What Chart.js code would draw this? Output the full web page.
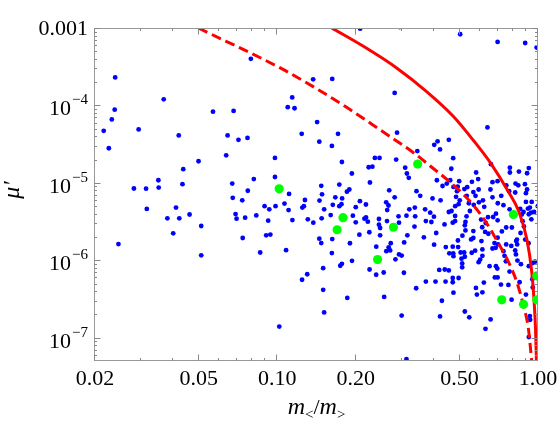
<!DOCTYPE html>
<html>
<head>
<meta charset="utf-8">
<script src="https://cdn.jsdelivr.net/npm/chart.js@4.4.1/dist/chart.umd.min.js"></script>
<style>
  body { margin: 0; background: #fff; }
  canvas { display: block; }
</style>
</head>
<body>
<canvas id="chart" width="560" height="422"></canvas>
<script>
// axis ticks and labels
const xMajorTicks = [0.02, 0.05, 0.1, 0.2, 0.5, 1];
const xTickLabels = ['0.02', '0.05', '0.10', '0.20', '0.50', '1.00'];
const xMinorTicks = [0.03, 0.04, 0.06, 0.07, 0.08, 0.09, 0.3, 0.4, 0.6, 0.7, 0.8, 0.9];
const yMajorTicks = [1e-7, 1e-6, 1e-5, 1e-4, 1e-3];
const yTickLabels = ['10^\u22127', '10^\u22126', '10^\u22125', '10^\u22124', '0.001'];

// red bound curves
const solidX = [0.1618, 0.214, 0.287, 0.374, 0.474, 0.5636, 0.658, 0.764, 0.846, 0.908, 0.945, 0.966, 0.979, 0.987];
const solidY = [1.0e-3, 5.8e-4, 3.05e-4, 1.51e-4, 7.2e-5, 3.58e-5, 1.8e-5, 8.04e-6, 4.2e-6, 1.81e-6, 7.38e-7, 3.01e-7, 1.23e-7, 4.6e-8];
const dashedX = [0.0498, 0.1027, 0.1373, 0.1845, 0.2482, 0.3365, 0.386, 0.474, 0.565, 0.636, 0.695, 0.770, 0.829, 0.879, 0.919, 0.947];
const dashedY = [1.0e-3, 3.05e-4, 1.75e-4, 9.45e-5, 4.83e-5, 2.39e-5, 1.65e-5, 9.35e-6, 5.15e-6, 3.0e-6, 1.8e-6, 9.55e-7, 5.26e-7, 2.62e-7, 1.3e-7, 4.8e-8];

// highlighted points
const greenPoints = [
  [0.1017, 8.36e-6], [0.1787, 3.55e-6], [0.1697, 2.48e-6], [0.279, 2.67e-6], [0.2425, 1.02e-6],
  [0.3455, 1.75e-5], [0.805, 3.9e-6], [0.989, 6.3e-7], [0.726, 3.08e-7], [0.88, 2.7e-7], [0.989, 3.08e-7]
];

// scan points
const bluePoints = [
  [0.0792, 4.0e-4], [0.0239, 2.3e-4], [0.0367, 1.2e-4], [0.0238, 8.8e-5], [0.0567, 8.3e-5], [0.068, 8.5e-5],
  [0.0232, 6.6e-5], [0.0216, 4.7e-5], [0.0294, 4.9e-5], [0.0419, 4.1e-5], [0.0645, 4.1e-5], [0.071, 3.6e-5],
  [0.0769, 3.8e-5], [0.0226, 2.8e-5], [0.0637, 2.27e-5], [0.098, 2.1e-5], [0.0499, 1.9e-5], [0.0436, 1.5e-5],
  [0.098, 1.19e-5], [0.0813, 1.12e-5], [0.035, 1.08e-5], [0.0433, 9.6e-6], [0.0672, 9.8e-6], [0.0282, 8.45e-6],
  [0.0314, 8.4e-6], [0.0351, 8.7e-6], [0.0771, 7.9e-6], [0.0675, 6.4e-6], [0.0734, 5.95e-6], [0.0316, 4.6e-6],
  [0.0409, 4.8e-6], [0.0894, 5.0e-6], [0.0932, 4.55e-6], [0.0985, 5.0e-6],
  [0.0379, 3.48e-6], [0.0421, 3.48e-6], [0.0461, 3.9e-6], [0.0692, 3.95e-6], [0.0698, 3.45e-6], [0.0753, 3.55e-6],
  [0.0831, 3.8e-6], [0.0923, 3.25e-6], [0.0511, 2.77e-6], [0.0399, 2.23e-6], [0.0737, 1.94e-6], [0.0907, 2.1e-6],
  [0.0941, 2.15e-6], [0.0246, 1.62e-6], [0.0511, 1.16e-6], [0.086, 1.26e-6], [0.1018, 1.39e-7],
  [0.208, 9.8e-4], [0.295, 1.03e-3], [0.503, 8.3e-4], [0.700, 6.6e-4], [0.893, 6.4e-4], [0.988, 5.6e-4],
  [0.1373, 2.17e-4], [0.1625, 2.2e-4], [0.282, 1.45e-4], [0.1141, 1.27e-4], [0.1097, 9.5e-5], [0.1165, 9.2e-5],
  [0.1422, 6.1e-5], [0.640, 5.2e-5], [0.1241, 4.3e-5], [0.171, 4.3e-5], [0.288, 4.45e-5], [0.145, 3.4e-5],
  [0.162, 3.0e-5], [0.455, 3.6e-5], [0.412, 3.44e-5], [0.400, 3.1e-5], [0.421, 2.7e-5], [0.3445, 2.57e-5],
  [0.177, 1.86e-5], [0.2368, 2.1e-5], [0.2468, 2.1e-5], [0.2858, 2.0e-5], [0.4728, 2.08e-5], [0.66, 1.74e-5],
  [0.2242, 1.59e-5], [0.2317, 1.62e-5], [0.3095, 1.57e-5], [0.465, 1.52e-5], [0.780, 1.57e-5], [0.780, 1.36e-5],
  [0.845, 1.4e-5], [0.922, 1.55e-5], [0.908, 1.33e-5], [0.1933, 1.32e-5], [0.3142, 1.32e-5], [0.3195, 1.16e-5],
  [0.579, 1.36e-5], [0.2267, 1.01e-5], [0.4605, 1.08e-5], [0.4985, 1.05e-5], [0.5895, 1.12e-5], [0.669, 1.02e-5],
  [0.6995, 1.05e-5], [0.756, 9.25e-6], [0.1475, 9.15e-6], [0.173, 9.5e-6], [0.447, 9.8e-6], [0.535, 8.8e-6],
  [0.522, 8.3e-6], [0.558, 1.03e-5], [0.82, 9.8e-6], [0.84, 9.3e-6], [0.891, 9.6e-6], [0.908, 8.2e-6],
  [0.111, 7.2e-6], [0.1485, 7.1e-6], [0.189, 8.2e-6], [0.185, 7.7e-6], [0.2688, 8.0e-6], [0.342, 7.8e-6],
  [0.4305, 9.1e-6], [0.489, 7.8e-6], [0.485, 6.6e-6], [0.592, 8.2e-6], [0.657, 8.2e-6], [0.669, 6.5e-6],
  [0.775, 7.8e-6], [0.8177, 7.5e-6], [0.474, 8.87e-6], [0.565, 7.6e-6], [0.3534, 6.8e-6], [0.394, 6.3e-6],
  [0.423, 5.95e-6], [0.282, 6.5e-6], [0.167, 6.5e-6], [0.1773, 6.3e-6], [0.1763, 5.3e-6], [0.1277, 6.0e-6],
  [0.1265, 5.0e-6], [0.1452, 5.9e-6], [0.1066, 5.4e-6], [0.2075, 5.8e-6], [0.2188, 5.25e-6], [0.1633, 5.2e-6],
  [0.173, 5.0e-6], [0.2617, 5.6e-6], [0.267, 5.1e-6], [0.576, 6.8e-6], [0.5935, 5.6e-6], [0.567, 5.2e-6],
  [0.615, 5.95e-6], [0.4813, 5.0e-6], [0.501, 5.95e-6], [0.496, 5.3e-6], [0.543, 5.45e-6], [0.723, 6.8e-6],
  [0.737, 5.15e-6], [0.899, 5.67e-6], [0.931, 4.8e-6], [0.915, 4.65e-6], [0.998, 5.0e-6],
  [0.1248, 4.8e-6], [0.1105, 4.45e-6], [0.1513, 4.55e-6], [0.2, 4.85e-6], [0.264, 4.45e-6], [0.321, 4.55e-6],
  [0.337, 4.8e-6], [0.369, 4.55e-6], [0.4095, 1.08e-5], [0.492, 8.9e-6], [0.899, 7.35e-6], [0.533, 6.8e-6],
  [0.622, 4.9e-6], [0.701, 5.45e-6], [0.946, 5.67e-6], [0.778, 4.55e-6], [0.855, 4.6e-6], [0.88, 4.2e-6],
  [0.867, 3.9e-6], [0.922, 3.93e-6], [0.94, 4.12e-6], [0.966, 4.2e-6], [0.386, 4.12e-6], [0.39, 3.12e-6],
  [0.455, 4.2e-6], [0.466, 4.33e-6], [0.548, 4.33e-6], [0.69, 4.0e-6], [0.673, 3.62e-6], [0.70, 3.28e-6],
  [0.605, 3.35e-6], [0.63, 3.03e-6], [0.481, 3.21e-6], [0.471, 3.06e-6], [0.527, 3.12e-6], [0.524, 2.83e-6],
  [0.438, 2.9e-6], [0.565, 2.38e-6], [0.627, 2.32e-6], [0.645, 2.2e-6], [0.727, 2.36e-6], [0.755, 2.65e-6],
  [0.794, 2.65e-6], [0.883, 2.74e-6], [0.873, 3.2e-6], [0.857, 2.25e-6], [0.943, 3.38e-6], [0.407, 2.25e-6],
  [0.513, 2.08e-6], [0.527, 2.43e-6], [0.565, 1.94e-6], [0.70, 1.96e-6], [0.83, 1.85e-6], [0.893, 1.85e-6],
  [0.481, 3.73e-6], [0.532, 3.7e-6], [0.611, 2.67e-6], [0.643, 3.6e-6], [0.399, 3.66e-6],
  [0.1143, 3.3e-6], [0.131, 3.38e-6], [0.1375, 3.06e-6], [0.148, 3.48e-6], [0.1603, 3.84e-6], [0.195, 3.77e-6],
  [0.2, 3.09e-6], [0.216, 3.45e-6], [0.219, 3.58e-6], [0.2225, 3.15e-6], [0.2455, 3.41e-6], [0.2455, 2.88e-6],
  [0.248, 2.61e-6], [0.2635, 3.21e-6], [0.2918, 3.7e-6], [0.293, 3.06e-6], [0.313, 3.77e-6], [0.338, 3.7e-6],
  [0.336, 2.72e-6], [0.3715, 3.21e-6], [0.145, 1.9e-6], [0.1475, 1.67e-6], [0.1625, 1.88e-6], [0.19, 1.66e-6],
  [0.2065, 2.14e-6], [0.2255, 2.3e-6], [0.248, 2.1e-6], [0.2725, 1.66e-6], [0.3067, 1.7e-6], [0.3155, 2.1e-6],
  [0.365, 1.98e-6], [0.1081, 1.35e-6], [0.162, 1.24e-6], [0.177, 9.0e-7], [0.1744, 8.5e-7], [0.1935, 9.85e-7],
  [0.2397, 1.5e-6], [0.262, 1.31e-6], [0.271, 1.34e-6], [0.2675, 1.47e-6], [0.293, 1.19e-6], [0.30, 1.15e-6],
  [0.284, 1.03e-6], [0.226, 7.6e-7], [0.2395, 6.5e-7], [0.256, 6.95e-7], [0.306, 6.9e-7], [0.150, 7.9e-7],
  [0.1303, 6.6e-7], [0.1245, 5.6e-7], [0.150, 4.15e-7], [0.1856, 3.26e-7], [0.257, 3.36e-7], [0.341, 4.35e-7],
  [0.3715, 5.3e-7], [0.1513, 2.12e-7], [0.30, 1.93e-7], [0.313, 5.3e-8],
  [0.3995, 1.59e-6], [0.443, 1.48e-6], [0.471, 1.5e-6], [0.473, 1.23e-6], [0.494, 1.48e-6], [0.493, 1.8e-6],
  [0.554, 1.86e-6], [0.607, 1.77e-6], [0.681, 1.67e-6], [0.703, 1.6e-6], [0.755, 1.6e-6], [0.79, 1.53e-6],
  [0.825, 1.77e-6], [0.832, 1.6e-6], [0.92, 1.66e-6], [0.521, 1.26e-6], [0.505, 1.26e-6], [0.457, 1.23e-6],
  [0.557, 1.25e-6], [0.574, 1.33e-6], [0.612, 1.38e-6], [0.669, 1.42e-6], [0.688, 1.45e-6], [0.737, 1.31e-6],
  [0.744, 1.14e-6], [0.8177, 1.34e-6], [0.823, 1.19e-6], [0.612, 1.14e-6], [0.60, 1.02e-6], [0.592, 9.45e-7],
  [0.524, 1.11e-6], [0.509, 1.05e-6], [0.474, 1.13e-6], [0.753, 9.7e-7], [0.834, 9.9e-7], [0.86, 8.9e-7],
  [0.922, 8.4e-7], [0.955, 9.2e-7], [0.974, 9.6e-7], [0.69, 8.4e-7], [0.652, 8.4e-7], [0.512, 9.1e-7],
  [0.512, 8.1e-7], [0.418, 7.5e-7], [0.439, 7.6e-7], [0.455, 7.4e-7], [0.778, 7.15e-7], [0.698, 7.8e-7],
  [0.951, 5.7e-7], [0.471, 5.9e-7], [0.496, 5.9e-7], [0.4045, 5.3e-7], [0.442, 5.3e-7], [0.471, 5.2e-7],
  [0.683, 6.0e-7], [0.70, 6.0e-7], [0.62, 5.15e-7], [0.77, 4.8e-7], [0.578, 4.4e-7], [0.583, 3.6e-7],
  [0.474, 3.82e-7], [0.955, 4.45e-7], [0.899, 3.6e-7], [0.792, 3.1e-7], [0.428, 3.0e-7], [0.524, 2.18e-7],
  [0.545, 1.83e-7], [0.421, 1.88e-7], [0.658, 1.72e-7], [0.931, 1.9e-7], [0.933, 1.7e-7], [0.629, 1.3e-7],
  [0.922, 1.02e-7], [0.612, 3.86e-7], [0.85, 5.2e-7], [0.721, 4.85e-7]
];

const toXY = pts => pts.map(p => ({ x: p[0], y: p[1] }));
const zipXY = (xs, ys) => xs.map((v, i) => ({ x: v, y: ys[i] }));

const serif = '"Liberation Serif", "Times New Roman", serif';

// frame, inward ticks and Mathematica-like labels
const framePlugin = {
  id: 'frame',
  afterDraw(chart) {
    const { ctx, chartArea: a, scales: { x, y } } = chart;
    const L = Math.round(a.left) - 0.5, R = Math.round(a.right) - 0.5;
    const T = Math.round(a.top) + 0.5, B = Math.round(a.bottom) - 0.5;
    ctx.save();
    ctx.strokeStyle = '#999';
    ctx.lineWidth = 1;
    ctx.strokeRect(L, T, R - L, B - T);

    ctx.strokeStyle = '#888';
    ctx.beginPath();
    const xTick = (v, len) => {
      const px = Math.round(x.getPixelForValue(v)) - 0.5;
      ctx.moveTo(px, B); ctx.lineTo(px, B - len);
      ctx.moveTo(px, T); ctx.lineTo(px, T + len);
    };
    const yTick = (v, len) => {
      const py = Math.round(y.getPixelForValue(v)) + 0.5;
      ctx.moveTo(L, py); ctx.lineTo(L + len, py);
      ctx.moveTo(R, py); ctx.lineTo(R - len, py);
    };
    xMajorTicks.forEach(v => xTick(v, 6));
    xMinorTicks.forEach(v => xTick(v, 2.5));
    yMajorTicks.forEach(v => yTick(v, 6));
    for (let e = -8; e <= -4; e++) {
      for (let k = 2; k <= 9; k++) {
        const v = k * Math.pow(10, e);
        if (v > y.min && v < y.max) yTick(v, 2.5);
      }
    }
    ctx.stroke();

    // x tick labels
    ctx.fillStyle = '#000';
    ctx.font = '22px ' + serif;
    ctx.textAlign = 'center';
    ctx.textBaseline = 'alphabetic';
    xMajorTicks.forEach((v, i) => {
      ctx.fillText(xTickLabels[i], x.getPixelForValue(v), 385);
    });

    // y tick labels
    ctx.textAlign = 'right';
    yMajorTicks.forEach((v, i) => {
      const py = y.getPixelForValue(v);
      const parts = yTickLabels[i].split('^');
      const right = 88;
      if (parts.length === 1) {
        ctx.font = '22px ' + serif;
        ctx.fillText(parts[0], right, py + 7);
      } else {
        ctx.font = '15px ' + serif;
        const wExp = ctx.measureText(parts[1]).width;
        ctx.fillText(parts[1], right, py - 1);
        ctx.font = '22px ' + serif;
        ctx.fillText(parts[0], right - wExp - 1, py + 10);
      }
    });

    // x axis title: m_< / m_>
    const pieces = [
      { t: 'm', f: 'italic 24px ' + serif, dy: 0 },
      { t: '<', f: '15px ' + serif, dy: 5 },
      { t: '/', f: '22px ' + serif, dy: 0 },
      { t: 'm', f: 'italic 24px ' + serif, dy: 0 },
      { t: '>', f: '15px ' + serif, dy: 5 }
    ];
    let total = 0;
    pieces.forEach(p => { ctx.font = p.f; p.w = ctx.measureText(p.t).width; total += p.w; });
    let cx = (a.left + a.right) / 2 - total / 2;
    ctx.textAlign = 'left';
    pieces.forEach(p => {
      ctx.font = p.f;
      ctx.fillText(p.t, cx, 414 + p.dy);
      cx += p.w;
    });

    // y axis title: mu'
    ctx.save();
    ctx.translate(19, 190);
    ctx.rotate(-Math.PI / 2);
    ctx.textAlign = 'center';
    ctx.font = 'italic 24px ' + serif;
    ctx.fillText('\u03BC\u2032', 0, 0);
    ctx.restore();

    ctx.restore();
  }
};

new Chart(document.getElementById('chart'), {
  type: 'scatter',
  data: {
    datasets: [
      {
        data: toXY(greenPoints),
        pointRadius: 4.6,
        pointBorderWidth: 0,
        backgroundColor: '#00ff00'
      },
      {
        data: zipXY(solidX, solidY),
        showLine: true,
        borderColor: '#ff0000',
        borderWidth: 3,
        pointRadius: 0,
        cubicInterpolationMode: 'monotone'
      },
      {
        data: zipXY(dashedX, dashedY),
        showLine: true,
        borderColor: '#ff0000',
        borderWidth: 3,
        borderDash: [10, 5],
        pointRadius: 0,
        cubicInterpolationMode: 'monotone'
      },
      {
        data: toXY(bluePoints),
        pointRadius: 2.4,
        pointBorderWidth: 0,
        backgroundColor: '#0000ff'
      }
    ]
  },
  options: {
    responsive: false,
    animation: false,
    layout: { padding: { left: 95, right: 22, top: 28, bottom: 61 } },
    plugins: { legend: { display: false }, tooltip: { enabled: false } },
    scales: {
      x: { type: 'logarithmic', min: 0.02, max: 1, display: false },
      y: { type: 'logarithmic', min: 5e-8, max: 1e-3, display: false }
    }
  },
  plugins: [framePlugin]
});
</script>
</body>
</html>
